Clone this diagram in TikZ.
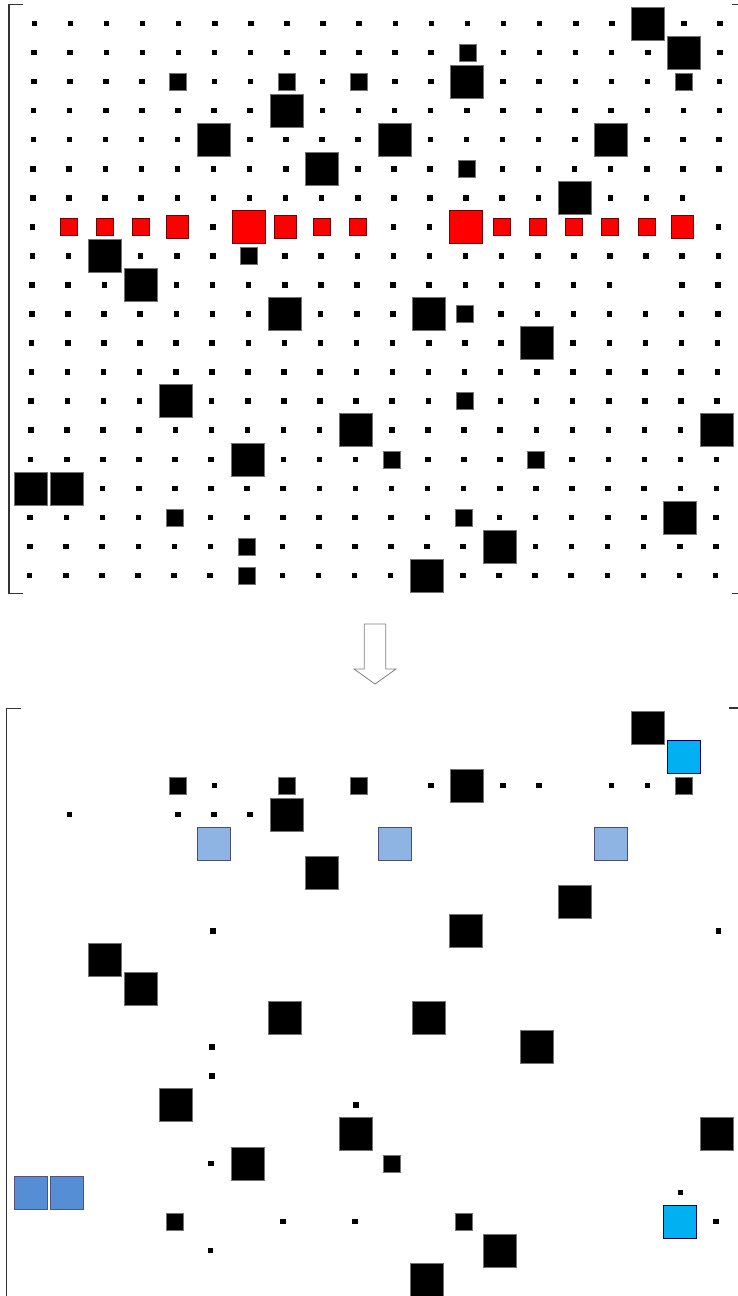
\documentclass[tikz,border=0pt]{standalone}
\definecolor{lblue}{HTML}{8EB4E3}
\definecolor{mblue}{HTML}{558ED5}
\definecolor{cyanb}{HTML}{00B0F0}
\definecolor{redsq}{HTML}{FF0000}
\tikzset{
  sq/.style={rectangle, inner sep=0pt, outer sep=0pt, line width=0.5pt},
  dotsq/.style={sq, fill=black, minimum size=5.5pt},
  medsq/.style={sq, fill=black, draw=black!55, minimum size=17pt},
  bigsq/.style={sq, fill=black, draw=black!55, minimum size=33pt},
  redsmall/.style={sq, fill=redsq, draw=red!45!black, minimum size=17pt},
  redmed/.style={sq, fill=redsq, draw=red!45!black, minimum size=22.5pt},
  redbig/.style={sq, fill=redsq, draw=red!45!black, minimum size=33pt},
  lbluesq/.style={sq, fill=lblue, draw=black!60!blue!40!gray, minimum size=33pt},
  mbluesq/.style={sq, fill=mblue, draw=black!55!blue!35!gray, minimum size=33pt},
  cyansq/.style={sq, fill=cyanb, draw=blue!40!black, minimum size=33pt},
  bracket/.style={draw=black!80, line width=1.2pt},
  hollowarrow/.style={draw=black!50, line width=0.8pt, fill=white, line join=miter}
}
\begin{document}
\begin{tikzpicture}[x=1pt,y=-1pt]
\useasboundingbox (0,0) rectangle (738,1296);
\fill[white] (0,0) rectangle (738,1296);

% ---------- top panel ----------
\draw[bracket] (22.7,4.5) -- (9,4.5) -- (9,593.3) -- (22.7,593.3);
\draw[bracket] (731.7,4.5) -- (738.5,4.5);
\draw[bracket] (732.3,593.3) -- (738.5,593.3);

% grid of dots (two positions are empty)
\foreach \r in {0,...,19}{
  \foreach \c in {0,...,19}{
    \pgfmathtruncatemacro\k{\r*100+\c}
    \ifnum\k=619 \else\ifnum\k=917 \else
      \node[dotsq] (td-\r-\c) at ({34.3-0.24*\r+36.1*\c},{23.5+29.05*\r}) {};
    \fi\fi
  }
}
% medium black squares
\foreach \r/\c in {1/12,2/4,2/7,2/9,2/18,5/12,8/6,10/12,13/12,15/10,15/14,17/4,17/12,18/6,19/6}
  \node[medsq] (tm-\r-\c) at ({34.3-0.24*\r+36.1*\c},{23.5+29.05*\r}) {};
% big black squares
\foreach \r/\c in {0/17,1/18,2/12,3/7,4/5,4/10,4/16,5/8,6/15,8/2,9/3,10/7,10/11,11/14,13/4,14/9,14/19,15/6,16/0,16/1,17/18,18/13,19/11}
  \node[bigsq] (tb-\r-\c) at ({34.3-0.24*\r+36.1*\c},{23.5+29.05*\r}) {};
% red row
\foreach \c in {1,2,3,8,9,13,14,15,16,17}
  \node[redsmall] (trs-\c) at ({34.3-0.24*7+36.1*\c},{23.5+29.05*7}) {};
\foreach \c in {4,7,18}
  \node[redmed] (trm-\c) at ({34.3-0.24*7+36.1*\c},{23.5+29.05*7}) {};
\foreach \c in {6,12}
  \node[redbig] (trb-\c) at ({34.3-0.24*7+36.1*\c},{23.5+29.05*7}) {};

% ---------- arrow ----------
\coordinate (arrtop) at (375,624);
\coordinate (arrtip) at (375,684);
\draw[hollowarrow] (arrtop) ++(-10.7,0) -- ++(0,45) -- ++(-10.3,0) -- (arrtip)
  -- ++(21,-15) -- ++(-10.3,0) -- ++(0,-45) -- cycle;

% ---------- bottom panel ----------
\draw[bracket] (20.7,708.3) -- (6.7,708.3) -- (6.7,1297);
\draw[bracket] (729,708) -- (738.5,708);

\foreach \r/\c in {2/5,2/11,2/13,2/14,2/16,2/17,3/1,3/4,3/5,3/6,7/5,7/19,11/5,12/5,13/9,15/5,16/18,17/7,17/9,17/19,18/5}
  \node[dotsq] (bd-\r-\c) at ({34.3-0.24*\r+36.1*\c},{727.5+29.05*\r}) {};
\foreach \r/\c in {2/4,2/7,2/9,2/18,15/10,17/4,17/12}
  \node[medsq] (bm-\r-\c) at ({34.3-0.24*\r+36.1*\c},{727.5+29.05*\r}) {};
\foreach \r/\c in {0/17,2/12,3/7,5/8,6/15,7/12,8/2,9/3,10/7,10/11,11/14,13/4,14/9,14/19,15/6,18/13,19/11}
  \node[bigsq] (bb-\r-\c) at ({34.3-0.24*\r+36.1*\c},{727.5+29.05*\r}) {};
\foreach \r/\c in {4/5,4/10,4/16}
  \node[lbluesq] (bl-\r-\c) at ({34.3-0.24*\r+36.1*\c},{727.5+29.05*\r}) {};
\foreach \r/\c in {16/0,16/1}
  \node[mbluesq] (bmb-\r-\c) at ({34.3-0.24*\r+36.1*\c},{727.5+29.05*\r}) {};
\foreach \r/\c in {1/18,17/18}
  \node[cyansq] (bc-\r-\c) at ({34.3-0.24*\r+36.1*\c},{727.5+29.05*\r}) {};
\end{tikzpicture}
\end{document}
